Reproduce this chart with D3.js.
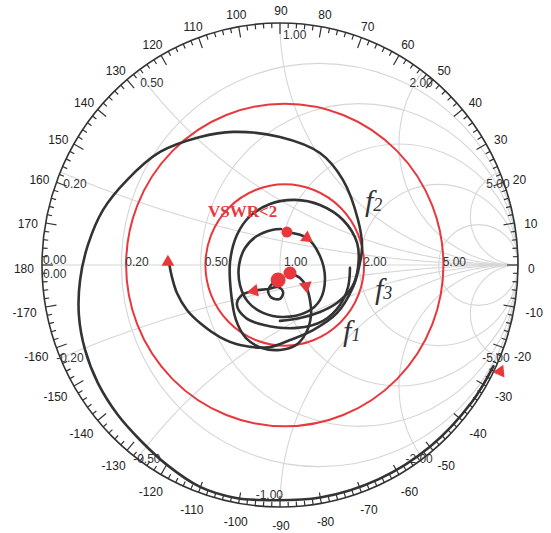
<!DOCTYPE html>
<html>
<head>
<meta charset="utf-8">
<script src="https://cdn.jsdelivr.net/npm/d3@7"></script>
<style>
  body { margin: 0; background: #fff; }
  svg { display: block; }
</style>
</head>
<body>
<svg id="chart" width="551" height="533"></svg>
<script>
// Smith chart grid values
const resistanceTicks = [0.2, 0.5, 1, 2, 5];
const reactanceTicks = [0.2, 0.5, 1, 2, 5, -0.2, -0.5, -1, -2, -5];
const angleTicks = d3.range(-170, 181, 10);
const vswrLevels = [2, 5];
const vswrCenter = [0.02, 0];

// Reflection-coefficient trajectories [re, im]; a series may hold several segments
const seriesF1 = [[
  [0.029, 0.136], [0.113, 0.112], [0.168, 0.037], [0.189, -0.058], [0.168, -0.145],
  [0.113, -0.194], [0.013, -0.215], [-0.071, -0.198], [-0.134, -0.153], [-0.168, -0.083],
  [-0.172, 0.000], [-0.147, 0.070], [-0.097, 0.120], [-0.034, 0.145], [0.004, 0.149]
]];
const seriesF2 = [[
  [0.897, -0.418], [0.807, -0.565], [0.630, -0.751], [0.413, -0.886], [0.169, -0.961],
  [-0.085, -0.971], [-0.185, -0.963], [-0.336, -0.917], [-0.475, -0.826], [-0.588, -0.723],
  [-0.681, -0.620], [-0.765, -0.488], [-0.819, -0.351], [-0.845, -0.207], [-0.840, -0.062],
  [-0.807, 0.083], [-0.744, 0.227], [-0.643, 0.351], [-0.504, 0.467], [-0.336, 0.529],
  [-0.197, 0.550], [0.000, 0.529], [0.168, 0.463], [0.265, 0.351], [0.328, 0.186],
  [0.345, 0.074], [0.332, -0.008], [0.307, -0.091], [0.240, -0.198], [0.139, -0.269],
  [0.042, -0.310], [-0.042, -0.339], [-0.168, -0.331], [-0.252, -0.298], [-0.336, -0.240],
  [-0.391, -0.186], [-0.433, -0.116], [-0.454, -0.050], [-0.466, 0.008]
], [
  [-0.008, -0.062], [-0.034, -0.079], [-0.050, -0.107], [-0.034, -0.136], [0.000, -0.140],
  [0.013, -0.112], [-0.008, -0.091], [-0.050, -0.099], [-0.109, -0.107], [-0.160, -0.124],
  [-0.181, -0.165], [-0.143, -0.219], [-0.067, -0.248], [0.071, -0.260], [0.181, -0.231],
  [0.252, -0.165], [0.286, -0.091], [0.294, -0.012]
]];
const seriesF3 = [[
  [0.042, -0.033], [0.084, -0.054], [0.109, -0.087], [0.126, -0.145], [0.130, -0.211],
  [0.109, -0.281], [0.067, -0.331], [0.000, -0.351], [-0.076, -0.343], [-0.143, -0.302],
  [-0.185, -0.227], [-0.206, -0.112], [-0.210, 0.012], [-0.181, 0.124], [-0.126, 0.202],
  [-0.042, 0.252], [0.063, 0.269], [0.168, 0.248], [0.265, 0.186], [0.324, 0.091],
  [0.328, -0.008], [0.303, -0.091], [0.239, -0.157], [0.168, -0.194], [0.084, -0.219],
  [0.000, -0.231]
]];
const seriesData = [seriesF1, seriesF2, seriesF3];

// Start points (dots) of the trajectories
const startPoints = [[0.029, 0.136], [0.042, -0.033], [-0.008, -0.062]];
const startRadius = [5.5, 6.5, 7.5];

// Direction arrows: position [re, im] and heading in degrees (counter-clockwise from +re)
const arrowPoints = [[0.113, 0.112], [0.109, -0.087], [-0.109, -0.107], [-0.471, 0.012], [0.925, -0.440]];
const arrowHeading = [-35, -80, 190, 90, 65];

// Series labels and their anchors [re, im]
const labelNames = ["f2", "f3", "f1"];
const labelPoints = [[0.357, 0.223], [0.399, -0.141], [0.265, -0.314]];

const W = 551, H = 533;
const svg = d3.select("#chart");
svg.append("rect").attr("width", W).attr("height", H).attr("fill", "#fff");

const x = d3.scaleLinear().domain([-1, 1]).range([42, 518]);
const y = d3.scaleLinear().domain([-1, 1]).range([507, 23]);
const cx = x(0), cy = y(0);
const Rx = x(1) - x(0), Ry = y(-1) - y(0);

const GRID = "#d6d6d6";
const RED = "#e8383d";
const INK = "#333";

// z = r + jX  ->  Gamma
function gamma(r, X) {
  const den = (r + 1) * (r + 1) + X * X;
  return [(r * r - 1 + X * X) / den, (2 * X) / den];
}

const line = d3.line().x(d => x(d[0])).y(d => y(d[1]));
const grid = svg.append("g").attr("fill", "none").attr("stroke", GRID).attr("stroke-width", 1.1);

// real axis
grid.append("line").attr("x1", x(-1)).attr("x2", x(1)).attr("y1", cy).attr("y2", cy);

// constant-resistance circles
grid.selectAll("ellipse.r").data(resistanceTicks).join("ellipse")
  .attr("cx", r => x(r / (1 + r)))
  .attr("cy", cy)
  .attr("rx", r => Rx / (1 + r))
  .attr("ry", r => Ry / (1 + r));

// constant-reactance arcs
const sSteps = d3.range(0, 1, 0.004);
grid.selectAll("path.xarc").data(reactanceTicks).join("path")
  .attr("d", X => line(sSteps.map(s => gamma(s / (1 - s), X)).concat([[1, 0]])));

// VSWR circles
svg.append("g").selectAll("ellipse").data(vswrLevels).join("ellipse")
  .attr("cx", x(vswrCenter[0])).attr("cy", y(vswrCenter[1]))
  .attr("rx", v => Rx * (v - 1) / (v + 1))
  .attr("ry", v => Ry * (v - 1) / (v + 1))
  .attr("fill", "none").attr("stroke", RED).attr("stroke-width", 2);

// outer rim with angle ticks
const rim = svg.append("g").attr("stroke", INK).attr("fill", "none");
rim.append("ellipse").attr("cx", cx).attr("cy", cy).attr("rx", Rx).attr("ry", Ry).attr("stroke-width", 1.6);
const tickAngles = d3.range(-178, 181, 2);
rim.selectAll("line").data(tickAngles).join("line")
  .attr("stroke-width", 1.2)
  .attr("x1", a => cx + Rx * Math.cos(a * Math.PI / 180))
  .attr("y1", a => cy - Ry * Math.sin(a * Math.PI / 180))
  .attr("x2", a => { const L = a % 10 === 0 ? 11 : 5; return cx + (Rx - L) * Math.cos(a * Math.PI / 180); })
  .attr("y2", a => { const L = a % 10 === 0 ? 11 : 5; return cy - (Ry - L) * Math.sin(a * Math.PI / 180); });

// angle labels
const font = "'Liberation Sans', Arial, sans-serif";
svg.append("g").selectAll("text").data(angleTicks).join("text")
  .attr("font-family", font).attr("font-size", 12).attr("fill", "#222")
  .attr("text-anchor", "middle").attr("dominant-baseline", "central")
  .attr("x", a => {
    const c = Math.cos(a * Math.PI / 180);
    const w = String(a).length * 6.7;
    return 281 + (247 + w / 2) * c;
  })
  .attr("y", a => 268.5 - 257.5 * Math.sin(a * Math.PI / 180))
  .text(a => a);

// resistance labels on the real axis
const gridText = svg.append("g").attr("font-family", font).attr("font-size", 12).attr("fill", "#333");
gridText.selectAll("text.r").data(resistanceTicks).join("text")
  .attr("x", r => x((r - 1) / (r + 1)) + 4)
  .attr("y", cy + 1)
  .text(r => r.toFixed(2));
gridText.append("text").attr("x", x(-1) + 1).attr("y", cy - 1).text((0).toFixed(2));
gridText.append("text").attr("x", x(-1) + 1).attr("y", cy + 13).text((0).toFixed(2));

// reactance labels near the rim
gridText.selectAll("text.x").data(reactanceTicks).join("text")
  .each(function (X) {
    const g = gamma(0, X);
    const px = x(g[0]), py = y(g[1]);
    const right = g[0] > 0.01 || X === -1;
    let dy = X > 0 ? 16 : 4;
    let dx = right ? 10 : (X > 0 ? 3 : -4);
    if (X === -1) { dy = -8; dx = 3; }
    d3.select(this)
      .attr("text-anchor", right ? "end" : "start")
      .attr("x", px + dx)
      .attr("y", py + dy)
      .text(X.toFixed(2));
  });

// trajectories
const traceLine = d3.line().x(d => x(d[0])).y(d => y(d[1])).curve(d3.curveCatmullRom.alpha(0.5));
svg.append("g").selectAll("path").data(seriesData.flat()).join("path")
  .attr("d", traceLine)
  .attr("fill", "none").attr("stroke", INK).attr("stroke-width", 2.6)
  .attr("stroke-linejoin", "round").attr("stroke-linecap", "round");

// direction arrows
const tri = d3.symbol().type(d3.symbolTriangle).size(72);
svg.append("g").selectAll("path").data(arrowPoints).join("path")
  .attr("d", tri)
  .attr("fill", RED)
  .attr("transform", (p, i) => `translate(${x(p[0])},${y(p[1])}) rotate(${90 - arrowHeading[i]})`);

// start dots
svg.append("g").selectAll("circle").data(startPoints).join("circle")
  .attr("cx", d => x(d[0])).attr("cy", d => y(d[1]))
  .attr("r", (d, i) => startRadius[i]).attr("fill", RED);

// VSWR annotation
svg.append("text").attr("x", 208).attr("y", 217)
  .attr("font-family", "'Liberation Serif', 'Times New Roman', serif")
  .attr("font-weight", "bold").attr("font-size", 17).attr("fill", RED)
  .text("VSWR<2");

// series labels
svg.append("g").selectAll("text").data(labelNames).join("text")
  .attr("x", (d, i) => x(labelPoints[i][0]))
  .attr("y", (d, i) => y(labelPoints[i][1]))
  .attr("font-family", "'Liberation Serif', 'Times New Roman', serif")
  .attr("font-style", "italic").attr("font-size", 30).attr("fill", INK)
  .each(function (d) {
    const t = d3.select(this);
    t.append("tspan").text(d[0]);
    t.append("tspan").attr("font-size", 18).text(d.slice(1));
  });
</script>
</body>
</html>
